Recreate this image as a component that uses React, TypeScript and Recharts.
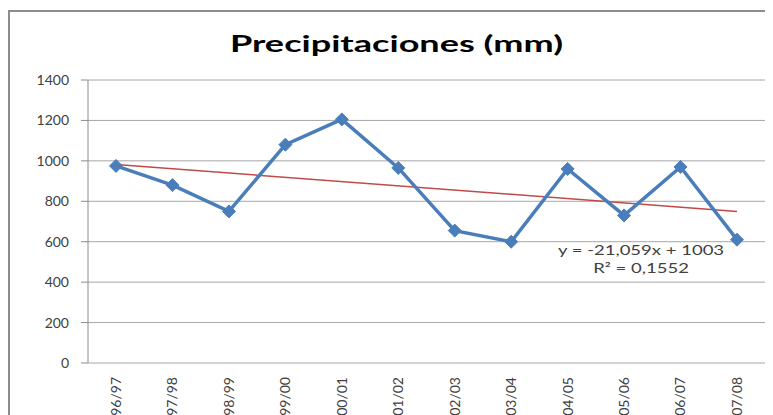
import React from 'react';
import { LineChart, Line, XAxis, YAxis, CartesianGrid } from 'recharts';

const seasons = ['96/97', '97/98', '98/99', '99/00', '00/01', '01/02', '02/03', '03/04', '04/05', '05/06', '06/07', '07/08'];
const rainfall = [975, 880, 750, 1080, 1205, 965, 655, 600, 960, 730, 970, 610];
// trendline end points (y = -21,059x + 1003)
const trendEnds = [982, 750];
const yTicks = [0, 200, 400, 600, 800, 1000, 1200, 1400];
const boundaryTicks = [0, 1, 2, 3, 4, 5, 6, 7, 8, 9, 10, 11, 12];

const data = seasons.map((s, i) => ({
    season: s,
    mm: rainfall[i],
    trend: i === 0 ? trendEnds[0] : i === seasons.length - 1 ? trendEnds[1] : null,
}));

const FONT = 'Lato, "Open Sans", sans-serif';
const BLUE = '#4a7ebb';
const RED = '#be4b48';

const Diamond = (props: any) => {
    const { cx, cy } = props;
    if (cx == null || cy == null) return null;
    const r = 6.5;
    return <path d={`M${cx},${cy - r}L${cx + r},${cy}L${cx},${cy + r}L${cx - r},${cy}Z`} fill={BLUE} stroke={BLUE} strokeWidth={1} />;
};

const SeasonTick = (props: any) => {
    const { x, y, payload } = props;
    return (
        <text x={x} y={y + 6} transform={`rotate(-90, ${x}, ${y + 6})`} textAnchor="end" dy="0.35em" fontSize={14} fill="#404040" fontFamily={FONT}>
            {payload.value}
        </text>
    );
};

export default function App() {
    return (
        <div style={{ position: 'relative', width: 765, height: 407, overflow: 'hidden', fontFamily: FONT }}>
            <div style={{ position: 'absolute', left: 0, top: 2, width: 765, height: 405, boxSizing: 'border-box', borderLeft: '2px solid #8c8c8c', borderTop: '2px solid #8c8c8c' }} />
            <div style={{ position: 'absolute', left: 0, width: 777, top: 22, textAlign: 'center', fontSize: 22, fontWeight: 700, color: '#000', transform: 'scaleX(1.64)' }}>
                Precipitaciones (mm)
            </div>
            <LineChart width={765} height={407} data={data} margin={{ top: 72, right: 8, bottom: 2, left: 20 }}>
                <CartesianGrid vertical={false} stroke="#a6a6a6" />
                <XAxis xAxisId="grid" type="number" dataKey="x" domain={[0, 12]} ticks={boundaryTicks} height={0} tick={false} tickSize={6} stroke="#8c8c8c" allowDataOverflow />
                <XAxis dataKey="season" height={50} axisLine={false} tickLine={false} interval={0} padding={{ left: 28, right: 28 }} tick={<SeasonTick />} />
                <YAxis domain={[0, 1400]} ticks={yTicks} width={60} tickSize={7} tickMargin={12} stroke="#8c8c8c" tick={{ fontSize: 14, fill: '#404040', fontFamily: FONT }} />
                <Line dataKey="trend" stroke={RED} strokeWidth={1.5} dot={false} connectNulls isAnimationActive={false} />
                <Line dataKey="mm" stroke={BLUE} strokeWidth={3.5} dot={<Diamond />} activeDot={false} isAnimationActive={false} />
            </LineChart>
            <div style={{ position: 'absolute', left: 533, width: 200, top: 233, textAlign: 'center', fontSize: 14, lineHeight: '18px', color: '#404040', transform: 'scaleX(1.32)' }}>
                y = -21,059x + 1003
                <br />
                R² = 0,1552
            </div>
        </div>
    );
}
